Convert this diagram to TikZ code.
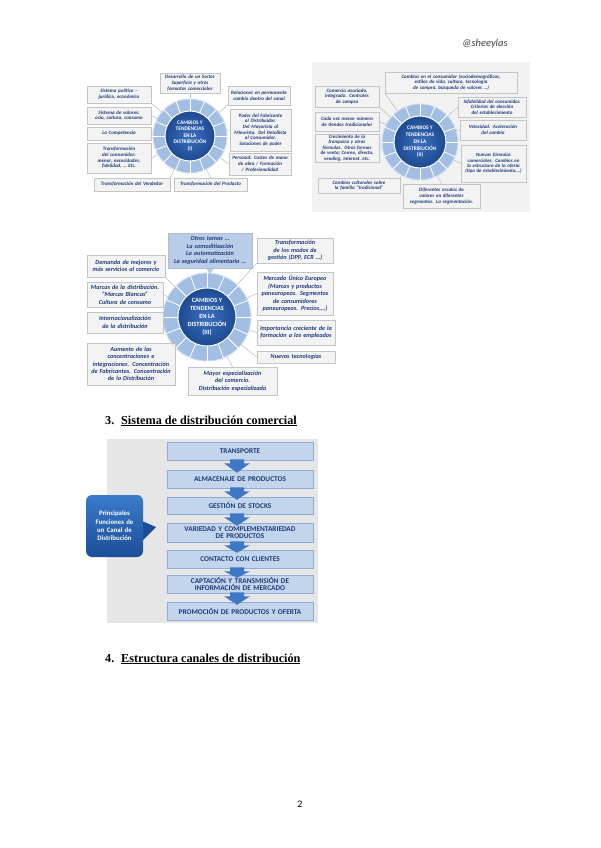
\documentclass[tikz,border=0pt]{standalone}
\usepackage{fontspec}
\setmainfont{Liberation Serif}
\newfontfamily\carl{Carlito}
\usetikzlibrary{calc,shadows}
\hyphenpenalty=10000
\exhyphenpenalty=10000
\definecolor{navy}{HTML}{1F3A7A}
\definecolor{boxfill}{HTML}{F3F3F3}
\definecolor{boxline}{HTML}{C4C4C4}
\definecolor{ringblue}{HTML}{A3BEE3}
\definecolor{ringedge}{HTML}{CFDDF1}
\definecolor{diskin}{HTML}{3C70BE}
\definecolor{diskout}{HTML}{1D4A92}
\definecolor{conncol}{HTML}{BBBBBB}
\definecolor{topfill}{HTML}{B9CDE8}
\definecolor{flowfill}{HTML}{C3D5EC}
\definecolor{flowline}{HTML}{8FABD6}
\definecolor{arrowc}{HTML}{3E78C4}
\definecolor{calltop}{HTML}{3A7BCB}
\definecolor{callbot}{HTML}{1B4E98}
\definecolor{bgflow}{HTML}{E6E6E6}
\definecolor{bgtwo}{HTML}{F2F2F2}
\newcommand\dfontA{\carl\bfseries\itshape\fontsize{5.0}{5.7}\selectfont}
\newcommand\dfontB{\carl\bfseries\itshape\fontsize{4.9}{5.35}\selectfont}
\newcommand\dfontC{\carl\bfseries\itshape\fontsize{6.2}{7.4}\selectfont}
\tikzset{
 dbox/.style={draw=boxline,fill=boxfill,line width=0.5pt,align=center,inner sep=1pt,text=navy,font=\dfontA,
   drop shadow={opacity=0.25,shadow xshift=0.8pt,shadow yshift=-0.8pt}},
 conn/.style={draw=conncol,line width=0.5pt},
 fbox/.style={draw=flowline,fill=flowfill,line width=0.5pt,minimum width=146pt,text width=144pt,align=center,inner sep=1pt,
   text=navy,font=\carl\bfseries\fontsize{7.3}{7.6}\selectfont},
}
\newcommand\dbx[7][]{%
\pgfmathsetmacro\myBW{#5-#3}%
\pgfmathsetmacro\myBH{#6-#4}%
\pgfmathsetmacro\myCX{(#3+#5)/2}%
\pgfmathsetmacro\myCY{(#4+#6)/2}%
\pgfmathsetmacro\myTW{#5-#3-6}%
\node[dbox,minimum width=\myBW pt,minimum height=\myBH pt,text width=\myTW pt,#1] (#2) at (\myCX,\myCY) {#7};}
\newcommand\myring[7]{% name x y R r font text
\pgfmathsetmacro\myDD{2*#4}%
\pgfmathsetmacro\myDI{2*#5}%
\node[circle,inner sep=0pt,minimum size=\myDD pt,fill=ringblue,draw=ringedge,line width=1pt] (#1) at (#2,#3) {};
\foreach \a in {0,22.5,...,337.5} \draw[white,line width=0.8pt] ($(#1.center)+(\a:#5pt)$) -- (#1.\a);
\node[circle,inner sep=0pt,minimum size=\myDI pt,inner color=diskin,outer color=diskout,draw=white,line width=1pt,
  text=white,align=center,font=#6] (#1in) at (#1.center) {#7};}
\newcommand\darr[2]{\fill[arrowc] let \p1=(#1.south), \p2=(#2.north) in
 (\x1-10pt,\y1+1pt) -- (\x1+4pt,\y1+1pt) -- (\x1+4pt,\y1-3pt) -- (\x1+10pt,\y1-3pt) -- (\x1-3pt,\y2-3pt)
 -- (\x1-16pt,\y1-3pt) -- (\x1-10pt,\y1-3pt) -- cycle;}
\begin{document}
\begin{tikzpicture}[x=1pt,y=-1pt]
\useasboundingbox[fill=white] (0,0) rectangle (600,848);
% header
\node[anchor=west,font=\carl\itshape\fontsize{10.5}{12}\selectfont,text=black!75,inner sep=0pt] (hdr) at (462,44) {@sheeylas};
% ================= Diagram I
\myring{r1}{190}{136}{37}{25}{\carl\bfseries\fontsize{5.4}{6.6}\selectfont}{CAMBIOS Y\\TENDENCIAS\\EN LA\\DISTRIBUCIÓN\\(I)}
\dbx{a1}{160}{73}{220}{93}{Desarrollo de un Sector Superficie y otros formatos comerciales}
\dbx{a2}{87}{86}{151}{103}{Sistema político – jurídico, económico}
\dbx{a3}{228}{86}{290}{105}{Relaciones en permanente cambio dentro del canal}
\dbx{a4}{87}{107}{151}{124}{Sistema de valores: ocio, cultura, consumo}
\dbx{a5}{230}{109}{291}{151}{Poder del Fabricante al Distribuidor. Del Mayorista al Minorista. Del Detallista al Consumidor. Soluciones de poder}
\dbx{a6}{87}{127}{151}{140}{La Competencia}
\dbx{a7}{87}{143}{151}{173}{Transformación del consumidor: menor, necesidades, fidelidad, \dots\ Etc.}
\dbx{a8}{229}{153}{291}{175}{Personal: Costes de mano de obra / Formación / Profesionalidad}
\dbx{a9}{94}{178}{170}{191}{Transformación del Vendedor}
\dbx{a10}{174}{178}{247}{191}{Transformación del Producto}
\draw[conn] (a1.south) -- (r1);
\draw[conn] (a2.south east) -- (r1);
\draw[conn] (a3.south west) -- (r1);
\draw[conn] (a4.east) -- (r1);
\draw[conn] (a5.west) -- (r1);
\draw[conn] (a6.east) -- (r1);
\draw[conn] (a7.east) -- (r1);
\draw[conn] (a8.west) -- (r1);
\draw[conn] (a9.north east) -- (r1);
\draw[conn] (a10.north) -- (r1);
% ================= Diagram II
\fill[bgtwo] (312,62) rectangle (530,212);
\myring{r2}{420}{142}{38}{26}{\carl\bfseries\fontsize{5.4}{6.8}\selectfont}{CAMBIOS Y\\TENDENCIAS\\EN LA\\DISTRIBUCIÓN\\(II)}
\dbx{b1}{385}{72}{517}{93}{Cambios en el consumidor (sociodemográficos, estilos de vida, cultura, tecnología de compra, búsqueda de valores \dots)}
\dbx{b2}{315}{86}{379}{107}{Comercio asociado, integrado. Centrales de compra}
\dbx{b3}{458}{97}{526}{117}{Infidelidad del consumidor. Criterios de elección del establecimiento}
\dbx{b4}{315}{112}{379}{131}{Cada vez menor número de tiendas tradicionales}
\dbx{b5}{460}{120}{526}{140}{Velocidad. Aceleración del cambio}
\dbx[font=\dfontB]{b6}{315}{134}{379}{162}{Crecimiento de la franquicia y otras fórmulas. Otras formas de venta; Correo, directa, vending, Internet, etc.}
\dbx[font=\dfontB]{b7}{461}{145}{526}{182}{Nuevas fórmulas comerciales. Cambios en la estructura de la oferta (tipo de establecimiento,\dots)}
\dbx{b8}{318}{178}{400}{193}{Cambios culturales sobre la familia “tradicional”}
\dbx{b9}{403}{184}{480}{208}{Diferentes escalas de valores en diferentes segmentos. La segmentación.}
\draw[conn] (b1.south west) -- (r2);
\draw[conn] (b2.south east) -- (r2);
\draw[conn] (b3.west) -- (r2);
\draw[conn] (b4.east) -- (r2);
\draw[conn] (b5.west) -- (r2);
\draw[conn] (b6.east) -- (r2);
\draw[conn] (b7.west) -- (r2);
\draw[conn] (b8.north east) -- (r2);
\draw[conn] (b9.north) -- (r2);
% ================= Diagram III
\myring{r3}{207}{317}{44}{29}{\carl\bfseries\fontsize{6.4}{8}\selectfont}{CAMBIOS Y\\TENDENCIAS\\EN LA\\DISTRIBUCIÓN\\(III)}
\fill[topfill] (205,267) -- (210,274) -- (215,267) -- cycle;
\dbx[font=\dfontC,fill=topfill,draw=topfill!80!gray]{c1}{168}{233}{252}{268}{Otros temas \dots\\ La comoditización\\ La automatización\\ La seguridad alimentaria \dots}
\dbx[font=\dfontC]{c2}{257}{238}{333}{263}{Transformación de los modos de gestión (DPP, ECR \dots)}
\dbx[font=\dfontC]{c3}{87}{255}{165}{277}{Demanda de mejores y más servicios al comercio}
\dbx[font=\dfontC]{c4}{87}{282}{163}{307}{Marcas de la distribución. “Marcas Blancas” Cultura de consumo}
\dbx[font=\dfontC]{c5}{257}{272}{333}{315}{Mercado Único Europeo (Marcas y productos paneuropeos. Segmentos de consumidores paneuropeos. Precios,\dots)}
\dbx[font=\dfontC]{c6}{87}{312}{163}{333}{Internacionalización de la distribución}
\dbx[font=\dfontC]{c7}{257}{320}{335}{345}{Importancia creciente de la formación a los empleados}
\dbx[font=\dfontC]{c8}{87}{343}{175}{385}{Aumento de las concentraciones e integraciones. Concentración de Fabricantes. Concentración de la Distribución}
\dbx[font=\dfontC]{c9}{257}{351}{335}{363}{Nuevas tecnologías}
\dbx[font=\dfontC]{c10}{188}{367}{277}{395}{Mayor especialización del comercio. Distribución especializada}
\draw[conn] (c2.south west) -- (r3);
\draw[conn] (c3.south east) -- (r3);
\draw[conn] (c4.east) -- (r3);
\draw[conn] (c5.west) -- (r3);
\draw[conn] (c6.east) -- (r3);
\draw[conn] (c7.west) -- (r3);
\draw[conn] (c8.north east) -- (r3);
\draw[conn] (c9.west) -- (r3);
\draw[conn] (c10.north) -- (r3);
% ================= Heading 3
\node[anchor=base west,font=\bfseries\fontsize{12.2}{14}\selectfont,inner sep=0pt] (h3n) at (105,424) {3.};
\node[anchor=base west,font=\bfseries\fontsize{12.2}{14}\selectfont,inner sep=0pt] (h3) at (121,424) {\underline{Sistema de distribución comercial}};
% ================= Flow chart
\fill[bgflow] (107,439) rectangle (318,623);
\node[fbox,minimum height=18pt] (f1) at (240,451) {TRANSPORTE};
\node[fbox,minimum height=18pt] (f2) at (240,479) {ALMACENAJE DE PRODUCTOS};
\node[fbox,minimum height=17pt] (f3) at (240,505.5) {GESTIÓN DE STOCKS};
\node[fbox,minimum height=19pt] (f4) at (240,532.5) {VARIEDAD Y COMPLEMENTARIEDAD DE PRODUCTOS};
\node[fbox,minimum height=18pt] (f5) at (240,559) {CONTACTO CON CLIENTES};
\node[fbox,minimum height=18pt] (f6) at (240,584) {CAPTACIÓN Y TRANSMISIÓN DE INFORMACIÓN DE MERCADO};
\node[fbox,minimum height=18pt] (f7) at (240,611) {PROMOCIÓN DE PRODUCTOS Y OFERTA};
\darr{f1}{f2}
\darr{f2}{f3}
\darr{f3}{f4}
\darr{f4}{f5}
\darr{f5}{f6}
\darr{f6}{f7}
% callout
\fill[callbot] (142,521) -- (156,527) -- (142,541) -- cycle;
\node[rounded corners=6pt,top color=calltop,bottom color=callbot,minimum width=57pt,minimum height=62pt,text width=55pt,
  align=center,inner sep=1pt,text=white,font=\carl\bfseries\fontsize{6.8}{8.4}\selectfont] (cl) at (114.5,526) {Principales\\Funciones de\\un Canal de\\Distribución};
% ================= Heading 4
\node[anchor=base west,font=\bfseries\fontsize{12.2}{14}\selectfont,inner sep=0pt] (h4n) at (105,662) {4.};
\node[anchor=base west,font=\bfseries\fontsize{12.2}{14}\selectfont,inner sep=0pt] (h4) at (121,662) {\underline{Estructura canales de distribución}};
% page number
\node[font=\carl\fontsize{10}{12}\selectfont,inner sep=0pt] (pg) at (300,804) {2};
\end{tikzpicture}
\end{document}
